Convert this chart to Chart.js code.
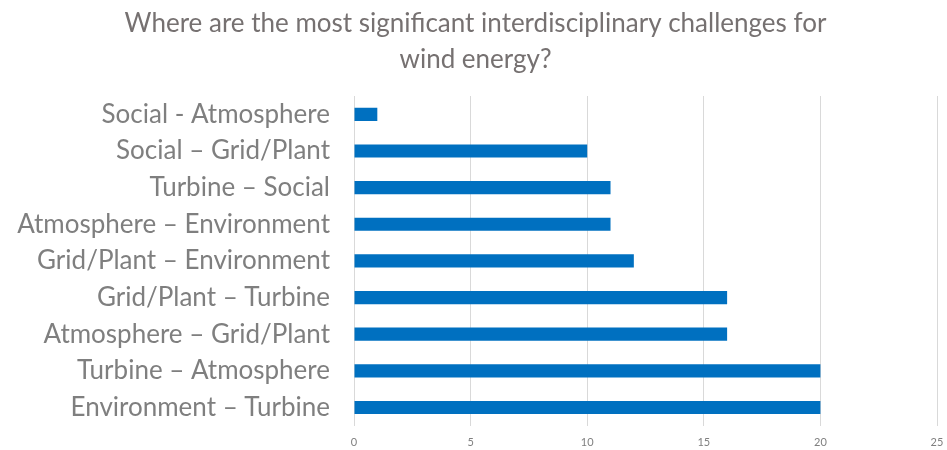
<!DOCTYPE html>
<html>
<head>
<meta charset="utf-8">
<script src="https://cdn.jsdelivr.net/npm/chart.js@4"></script>
<style>
html,body{margin:0;padding:0;background:#fff;}
#wrap{width:947px;height:450px;position:relative;}
</style>
</head>
<body>
<div id="wrap"><canvas id="c"></canvas></div>
<script>
const categories = [
  "Social - Atmosphere",
  "Social \u2013 Grid/Plant",
  "Turbine \u2013 Social",
  "Atmosphere \u2013 Environment",
  "Grid/Plant \u2013 Environment",
  "Grid/Plant \u2013 Turbine",
  "Atmosphere \u2013 Grid/Plant",
  "Turbine \u2013 Atmosphere",
  "Environment \u2013 Turbine"
];
const responses = [1, 10, 11, 11, 12, 16, 16, 20, 20];
const titleLines = ["Where are the most significant interdisciplinary challenges for", "wind energy?"];
const xMin = 0, xMax = 25, xStep = 5;

new Chart(document.getElementById('c'), {
  type: 'bar',
  data: {
    labels: categories,
    datasets: [{
      data: responses,
      backgroundColor: '#0070C0',
      borderWidth: 0,
      categoryPercentage: 1,
      barPercentage: 0.36
    }]
  },
  options: {
    indexAxis: 'y',
    responsive: true,
    maintainAspectRatio: false,
    animation: false,
    layout: { padding: { left: 14, right: 10, top: 0, bottom: -9 } },
    plugins: {
      legend: { display: false },
      tooltip: { enabled: false },
      title: {
        display: true,
        text: titleLines,
        color: '#767171',
        font: { family: 'Lato', size: 26, weight: 'normal', lineHeight: 1.385 },
        padding: { top: 6, bottom: 18 }
      }
    },
    scales: {
      x: {
        min: xMin, max: xMax,
        afterFit: (s) => { s.paddingRight = 0; s.paddingLeft = 0; },
        ticks: { stepSize: xStep, color: '#7f7f7f', font: { family: 'Lato', size: 11 }, padding: 10 },
        grid: { color: '#d9d9d9', lineWidth: 1, drawTicks: false },
        border: { display: false }
      },
      y: {
        afterFit: (s) => { s.width = 340; s.paddingTop = 0; s.paddingBottom = 0; },
        ticks: { color: '#7f7f7f', font: { family: 'Lato', size: 26 }, padding: 24 },
        grid: { display: false, drawTicks: false },
        border: { display: false }
      }
    }
  }
});
</script>
</body>
</html>
